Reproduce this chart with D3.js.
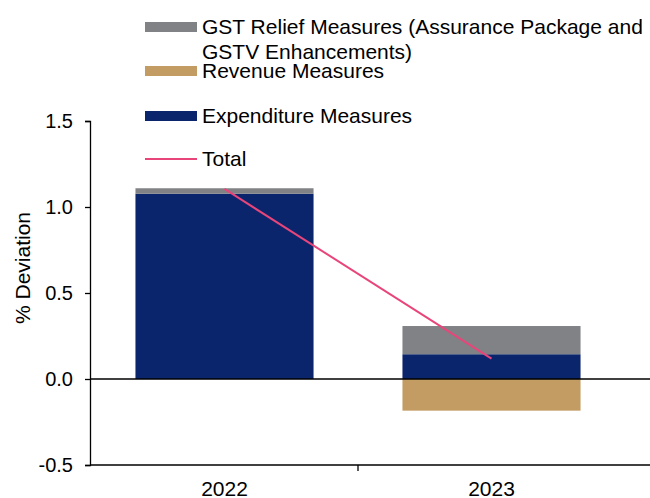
<!DOCTYPE html>
<html>
<head>
<meta charset="utf-8">
<script src="https://cdn.jsdelivr.net/npm/d3@7"></script>
<style>
  body { margin: 0; background: #fff; }
  text { font-family: "Liberation Sans", Arial, sans-serif; fill: #000; }
</style>
</head>
<body>
<script>
// chart values
var years = ["2022", "2023"];
var expenditure = [1.077, 0.144];
var gstRelief = [0.032, 0.164];
var revenue = [0, -0.184];
var total = [1.105, 0.118];
var yTicks = [-0.5, 0.0, 0.5, 1.0, 1.5];

var width = 650, height = 498;

var svg = d3.select("body").append("svg")
    .attr("width", width)
    .attr("height", height);

var x = d3.scaleBand()
    .domain(years)
    .range([91, 625])
    .paddingInner(0.333)
    .paddingOuter(0.1665);

var y = d3.scaleLinear()
    .domain([-0.5, 1.5])
    .range([465, 121]);

var colors = {
  gst: "#818285",
  rev: "#c29c62",
  exp: "#0b256d",
  total: "#e8457a"
};

// bars
var bars = svg.append("g");
years.forEach(function(yr, i) {
  // expenditure
  bars.append("rect")
      .attr("x", x(yr))
      .attr("width", x.bandwidth())
      .attr("y", y(expenditure[i]))
      .attr("height", y(0) - y(expenditure[i]))
      .attr("fill", colors.exp);
  // gst relief stacked on expenditure
  bars.append("rect")
      .attr("x", x(yr))
      .attr("width", x.bandwidth())
      .attr("y", y(expenditure[i] + gstRelief[i]))
      .attr("height", y(expenditure[i]) - y(expenditure[i] + gstRelief[i]))
      .attr("fill", colors.gst);
  // revenue (negative)
  if (revenue[i] < 0) {
    bars.append("rect")
        .attr("x", x(yr))
        .attr("width", x.bandwidth())
        .attr("y", y(0))
        .attr("height", y(revenue[i]) - y(0))
        .attr("fill", colors.rev);
  }
});

// total line
var line = d3.line()
    .x(function(d, i) { return x(years[i]) + x.bandwidth() / 2; })
    .y(function(d) { return y(d); });

svg.append("path")
    .datum(total)
    .attr("d", line)
    .attr("fill", "none")
    .attr("stroke", colors.total)
    .attr("stroke-width", 2);

// y axis
var yAxis = d3.axisLeft(y)
    .tickValues(yTicks)
    .tickFormat(function(d) { return d3.format(".1f")(d).replace("\u2212", "-"); })
    .tickSize(5)
    .tickPadding(12);

var yg = svg.append("g")
    .attr("transform", "translate(90,0)")
    .call(yAxis);
yg.select(".domain").attr("stroke", "#000").attr("stroke-width", 1.3);
yg.selectAll(".tick line").attr("stroke", "#000").attr("stroke-width", 1.3);
yg.selectAll(".tick text")
    .style("font-size", "20px")
    .style("font-family", "Liberation Sans, Arial, sans-serif");

// zero line
svg.append("line")
    .attr("x1", 90).attr("x2", width)
    .attr("y1", y(0)).attr("y2", y(0))
    .attr("stroke", "#000").attr("stroke-width", 1.5);

// bottom axis line
svg.append("line")
    .attr("x1", 90).attr("x2", width)
    .attr("y1", y(-0.5)).attr("y2", y(-0.5))
    .attr("stroke", "#000").attr("stroke-width", 1.5);

// category divider tick
svg.append("line")
    .attr("x1", x(years[1]) - x.step() * x.paddingInner() / 2)
    .attr("x2", x(years[1]) - x.step() * x.paddingInner() / 2)
    .attr("y1", y(-0.5)).attr("y2", y(-0.5) + 6)
    .attr("stroke", "#000").attr("stroke-width", 1.3);

// x labels
svg.selectAll(".xlab")
    .data(years)
    .enter()
  .append("text")
    .attr("class", "xlab")
    .attr("x", function(d) { return x(d) + x.bandwidth() / 2; })
    .attr("y", 496)
    .attr("text-anchor", "middle")
    .style("font-size", "21px")
    .text(function(d) { return d; });

// y title
svg.append("text")
    .attr("transform", "translate(30,268) rotate(-90)")
    .attr("text-anchor", "middle")
    .style("font-size", "21px")
    .text("% Deviation");

// legend
var legend = svg.append("g");
var legendItems = [
  { lines: ["GST Relief Measures (Assurance Package and", "GSTV Enhancements)"], color: colors.gst, y: 27, type: "rect" },
  { lines: ["Revenue Measures"], color: colors.rev, y: 71, type: "rect" },
  { lines: ["Expenditure Measures"], color: colors.exp, y: 116, type: "rect" },
  { lines: ["Total"], color: colors.total, y: 159, type: "line" }
];

legendItems.forEach(function(item) {
  if (item.type === "rect") {
    legend.append("rect")
        .attr("x", 145).attr("y", item.y - 5)
        .attr("width", 52).attr("height", 10)
        .attr("fill", item.color);
  } else {
    legend.append("line")
        .attr("x1", 145).attr("x2", 197)
        .attr("y1", item.y).attr("y2", item.y)
        .attr("stroke", item.color).attr("stroke-width", 2);
  }
  item.lines.forEach(function(t, k) {
    legend.append("text")
        .attr("x", 202)
        .attr("y", item.y + 7 + k * 25)
        .style("font-size", "21px")
        .text(t);
  });
});
</script>
</body>
</html>
